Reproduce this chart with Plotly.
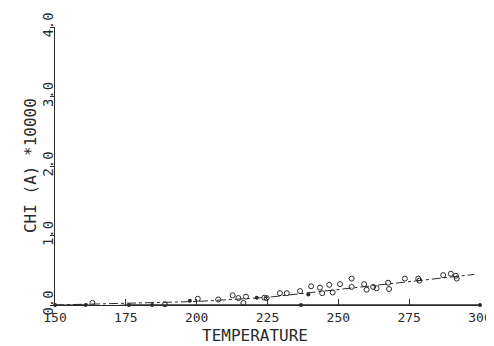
import plotly.graph_objects as go

# Open-circle measurements (temperature, chi*10000)
open_t = [163.2, 182.9, 188.8, 192.9, 200.4, 199.4, 207.6, 210.8, 212.7, 214.7,
          216.5, 217.4, 223.9, 224.7, 229.4, 231.8, 236.5, 240.4, 243.5, 244.3,
          246.8, 248.0, 250.6, 254.7, 254.7, 259.1, 260.0, 262.3, 263.5, 267.6,
          267.9, 273.5, 278.2, 278.6, 287.0, 289.7, 291.5, 291.8]
open_chi = [0.03, -0.02, 0.01, -0.01, 0.09, -0.03, 0.08, -0.05, 0.14, 0.10,
            0.03, 0.12, 0.105, 0.10, 0.17, 0.17, 0.20, 0.27, 0.25, 0.17,
            0.29, 0.18, 0.30, 0.38, 0.26, 0.30, 0.22, 0.26, 0.24, 0.32,
            0.23, 0.38, 0.38, 0.35, 0.43, 0.45, 0.42, 0.38]

# Filled dots on the upper curve
fill_up_t = [197.6, 221.2, 239.4]
fill_up_chi = [0.06, 0.105, 0.15]

# Filled dots of the baseline series
base_t = [150.0, 152.4, 160.8, 168.6, 176.1, 184.3, 205.1, 236.8, 300.0]
base_chi = [0.0, -0.005, 0.0, -0.02, 0.0, 0.0, -0.005, 0.0, 0.0]

# Dash-dot fitted curve vertices
fit_t = [150, 175, 200, 225, 250, 275, 298]
fit_chi = [0.0, 0.02, 0.05, 0.11, 0.22, 0.33, 0.44]

x_ticks = [150, 175, 200, 225, 250, 275, 300]
y_ticks = [0.0, 1.0, 2.0, 3.0, 4.0]
y_labels = ["0.0", "1.0", "2.0", "3.0", "4.0"]

ink = "#2a2a2a"
font = "DejaVu Sans Mono"

fig = go.Figure()
fig.add_trace(go.Scatter(x=fit_t, y=fit_chi, mode="lines",
                         line=dict(color=ink, width=1, dash="dashdot"),
                         cliponaxis=False, hoverinfo="skip"))
fig.add_trace(go.Scatter(x=base_t, y=base_chi, mode="lines+markers",
                         line=dict(color=ink, width=1.5),
                         marker=dict(size=4, color=ink),
                         cliponaxis=False))
fig.add_trace(go.Scatter(x=open_t, y=open_chi, mode="markers",
                         marker=dict(size=5, color=ink, symbol="circle-open",
                                     line=dict(color=ink, width=1)),
                         cliponaxis=False))
fig.add_trace(go.Scatter(x=fill_up_t, y=fill_up_chi, mode="markers",
                         marker=dict(size=4, color=ink),
                         cliponaxis=False))

fig.update_layout(
    width=486, height=338,
    margin=dict(l=47, r=14, t=19, b=41, autoexpand=False),
    paper_bgcolor="white", plot_bgcolor="white",
    showlegend=False,
    font=dict(family=font, color=ink, size=14),
    xaxis=dict(range=[150, 300], tickvals=x_ticks, ticktext=[str(v) for v in x_ticks],
               showline=True, linecolor=ink, linewidth=1.2, showgrid=False, zeroline=False,
               automargin=False,
               ticks="inside", ticklen=6, tickcolor=ink, tickfont=dict(family=font, size=13)),
    yaxis=dict(range=[0, 4], tickvals=y_ticks, ticktext=y_labels, tickangle=-90,
               showline=True, linecolor=ink, linewidth=1.2, showgrid=False, zeroline=False,
               automargin=False, ticklabelstandoff=-9,
               ticks="outside", ticklen=4, tickcolor=ink, tickfont=dict(family=font, size=14)),
    annotations=[
        dict(text="TEMPERATURE", xref="paper", yref="paper", x=0.47, y=-0.108,
             xanchor="center", yanchor="middle", showarrow=False,
             font=dict(family=font, size=16, color=ink)),
        dict(text="CHI (A) *10000", xref="paper", yref="paper", x=-0.0588, y=0.5,
             xanchor="center", yanchor="middle", showarrow=False, textangle=-90,
             font=dict(family=font, size=16, color=ink)),
    ],
)

fig.write_html("out.html")
